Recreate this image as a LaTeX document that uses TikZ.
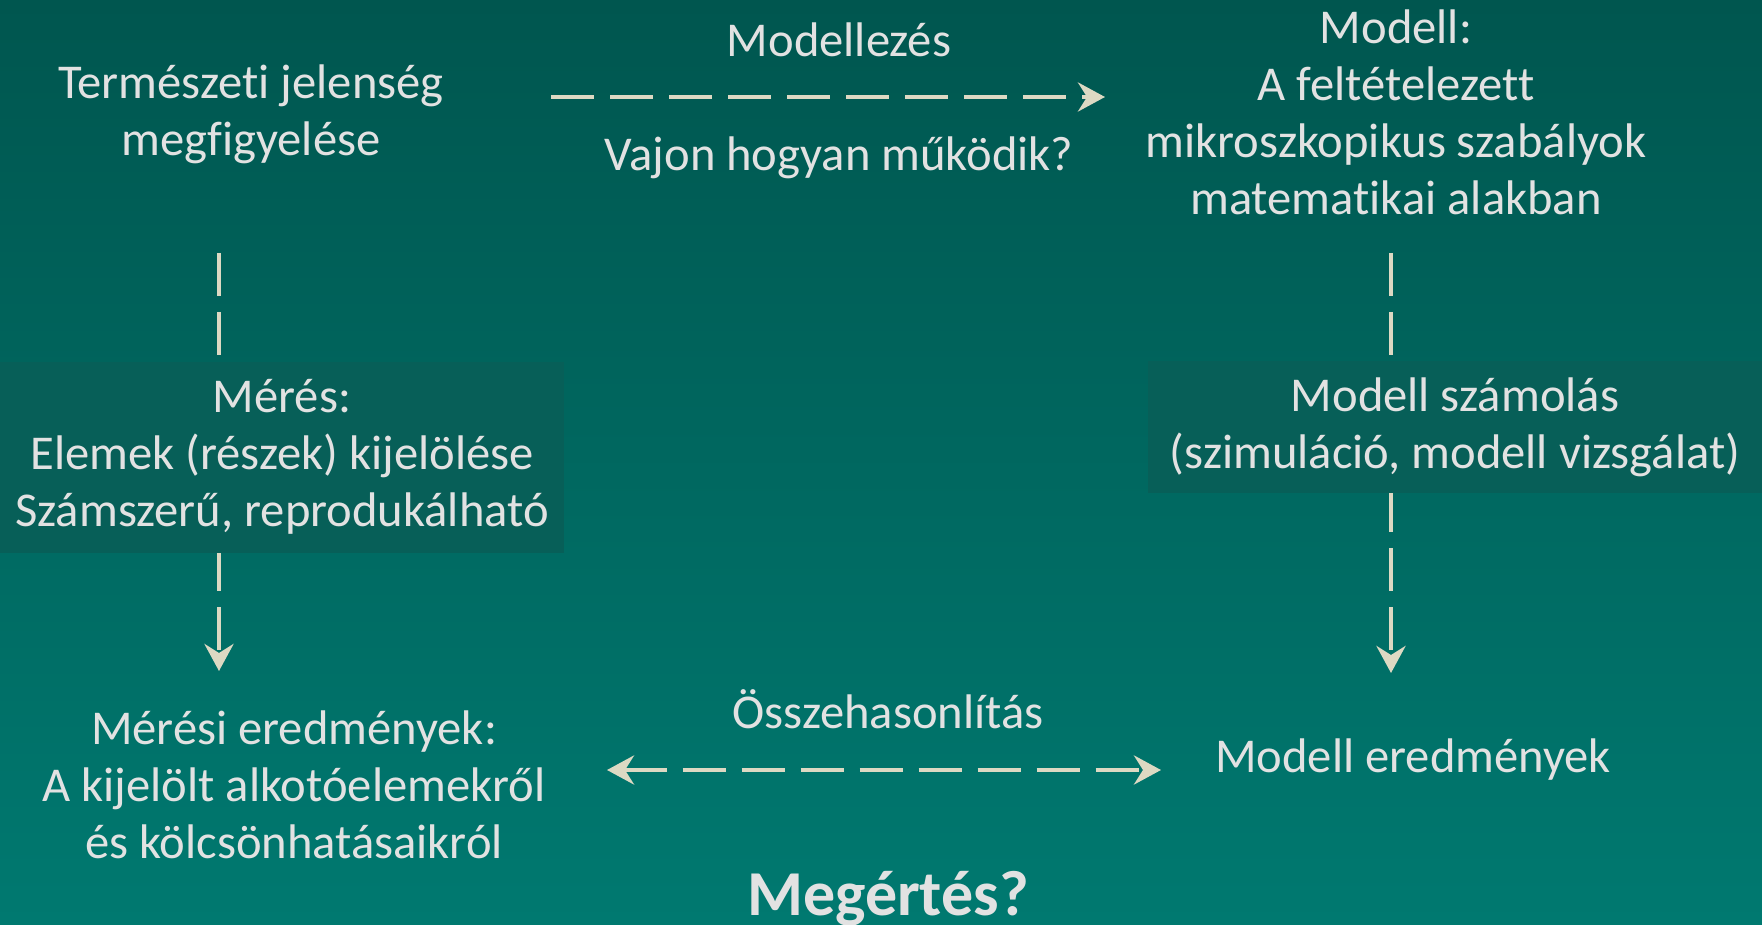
\documentclass[tikz,border=0pt]{standalone}
\usepackage{fontspec}
\setmainfont[Ligatures=NoCommon]{Carlito}
\usetikzlibrary{arrows.meta}
\definecolor{bgtop}{HTML}{00564F}
\definecolor{bgbot}{HTML}{007970}
\definecolor{boxc}{HTML}{075F58}
\definecolor{txt}{HTML}{E2E2E2}
\definecolor{arr}{HTML}{DDD9C3}
\begin{document}
\begin{tikzpicture}[x=0.5pt,y=-0.5pt,
  lbl/.style={text=txt, font=\fontsize{24.3}{28.5}\selectfont, align=center, inner sep=0pt},
  panel/.style={fill=boxc, inner sep=0pt},
  conn/.style={draw=arr, line width=2.2pt, dash pattern=on 21.5pt off 8pt,
    -{Stealth[length=13.5pt,width=14.5pt,inset=4.5pt]}},
  conn2/.style={conn, {Stealth[length=13.5pt,width=14.5pt,inset=4.5pt]}-{Stealth[length=13.5pt,width=14.5pt,inset=4.5pt]}}
]
\shade[top color=bgtop, bottom color=bgbot] (0,0) rectangle (1762,925);
\useasboundingbox (0,0) rectangle (1762,925);

% arrow end points
\coordinate (t1) at (551,97);
\coordinate (t2) at (1105,97);
\coordinate (l1) at (219,253);
\coordinate (l2) at (219,671);
\coordinate (r1) at (1391,253);
\coordinate (r2) at (1391,673);
\coordinate (b1) at (607,770);
\coordinate (b2) at (1161,770);

\draw[conn] (t1) -- (t2);
\draw[conn] (l1) -- (l2);
\draw[conn] (r1) -- (r2);
\draw[conn2] (b1) -- (b2);

% panels
\node[panel, lbl, minimum width=282pt, minimum height=95.5pt] (meres) at (282,457)
  {Mérés:\\Elemek (részek) kijelölése\\Számszerű, reprodukálható};
\node[panel, lbl, minimum width=307pt, minimum height=66pt] (szam) at (1455,427)
  {Modell számolás\\(szimuláció, modell vizsgálat)};

% texts
\node[lbl] (obs) at (251,114) {Természeti jelenség\\megfigyelése};
\node[lbl] (modellezes) at (839,40) {Modellezés};
\node[lbl] (vajon) at (839,158) {Vajon hogyan működik?};
\node[lbl] (modell) at (1396,112) {Modell:\\A feltételezett\\mikroszkopikus szabályok\\matematikai alakban};
\node[lbl] (eredm) at (294,785) {Mérési eredmények:\\A kijelölt alkotóelemekről\\és kölcsönhatásaikról};
\node[lbl] (osszeh) at (888,709) {Összehasonlítás};
\node[lbl] (modeller) at (1413,760) {Modell eredmények};
\node[lbl, font=\fontsize{32}{36}\selectfont\bfseries] (megertes) at (888,899) {Megértés?};
\end{tikzpicture}
\end{document}
